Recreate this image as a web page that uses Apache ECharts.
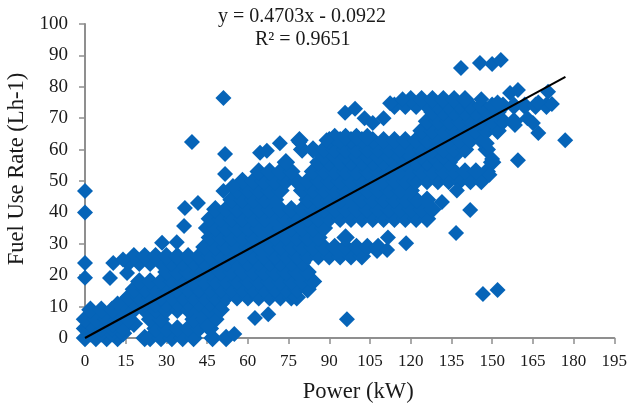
<!DOCTYPE html>
<html>
<head>
<meta charset="utf-8">
<style>html,body{margin:0;padding:0;background:#fff}#c{width:631px;height:406px}</style>
<script src="https://cdn.jsdelivr.net/npm/echarts@6/dist/echarts.min.js"></script>
</head>
<body>
<div id="c"></div>
<script>
const xTicks = [0,15,30,45,60,75,90,105,120,135,150,165,180,195];
const yTicks = [0,10,20,30,40,50,60,70,80,90,100];
const row0 = [0,4,8,12,22,24,28,32,36,40,47,52];
const row2 = [2,6,10,14];
const row3 = [0,2,6,10,14,26,30,34,38,42,46];
const row5 = [2,6,10,14,18];
const row6 = [0,4,8,12,16,24,28,40,44,48];
const row9 = [2,6,10,14,18,22,26,30,34,38,42,46,50];
const row13 = [16,20,24,28,32,36,40,44,48,52,56,60,64,68,72,76,78];
const row11 = [14,18,22,26,30,34,38,42,46,50];
const row15 = [18,22,26,30,34,38,42,46,50,54,58,62,66,70,74,78,82];
const row18 = [20,24,28,32,36,40,44,48,52,56,60,64,68,72,76,80,84];
const row21 = [30,34,38,42,46,50,54,58,62,66,70,74,78,82];
const row24 = [16,20,24,28,32,36,40,44,48,52,56,60,64,68,72,76,80];
const row26 = [18,22,26,30,34,38,42,46,50,54,58,62,66,70,74,78,82,86,90,94,98,102];
const row29 = [44,48,52,56,60,64,68,72,76,80,84,88,92,96,100,104,108];
const row32 = [46,50,54,58,62,66,70,74,78,82,86,96];
const row35 = [45,48,52,56,60,64,68,72,76,80,84,88];
const row38 = [46,50,54,58,62,66,70,74,78,82,86,90,94,98,102,106,110,114,118,122,126];
const row41 = [48,52,56,60,64,68,72,76,80,84,88,92,96,100,104,108,112,116,120,124,128];
const row44 = [54,58,62,66,70,82,86,90,94,98,102,106,110,114,118,122,126];
const row47 = [56,60,64,68,72,80,84,88,92,96,100,104,108,112,116,120];
const row50 = [58,62,66,70,74,78,82,86,90,94,98,102,106,110,114,118,122,126,130,134,138,142,146];
const row53 = [64,68,72,76,84,88,92,96,100,104,108,112,116,120,124,128,132,136,140,144,148];
const row56 = [74,86,90,94,98,102,106,110,114,118,122,126,130,134,150];
const row58 = [88,92,96,100,104,108,112,116,120,124,128,132,136];
const row60 = [80,84,88,92,96,100,104,108,112,116,120,124,128,132,136,140,148];
const row63 = [79,90,94,98,102,106,110,114,118,122,126,130,134,138,142,146];
const row64 = [92,96,100,104];
const row66 = [124,128,132,136,140,144,148,152];
const row69 = [126,130,134,138,142,146,150,154,158];
const row72 = [128,132,136,140,144,148,152];
const row74 = [114,118,122,126,130,134,138,142,146,150,154,158,162,166,170];
const row76 = [120,124,128,132,136,140];
const rowLevels = [0,1.5,3,4.5,6,9,11,13,15.5,18,21,24,26,29,32,35,38,41,44,47,50,53,56,58,60,63,64,66,69,72,74,76];
const rowLists = [row0,row2,row3,row5,row6,row9,row11,row13,row15,row18,row21,row24,row26,row29,row32,row35,row38,row41,row44,row47,row50,row53,row56,row58,row60,row63,row64,row66,row69,row72,row74,row76];
const looseX = [0,0,0,0,10.4,9.2,15.5,14,12,28.4,33.8,36.5,36.8,41.6,39.4,51,51.6,51.6,51,54.5,64.5,67,71.8,62.6,67.5,55,45,96.5,146.6,152,118.3,136.7,141.9,159.5,176.9,138.5,145.5,150,153.2,95.8,99.5,103,106,110,112.4,79,89,107.6,111.3,111.6,131.5,137,149,150,148,158.4,163,165,167,117,146,152,156.6,159.5,170.6,172,167];
const looseY = [46.8,40,23.9,19.2,23.9,19.1,20.7,25,11,30.3,30.5,35.7,41.4,43,62.4,76.4,58.6,52.2,46.8,48.4,59,59.6,62,6.4,7.6,1.3,3.8,6,14,15.3,30.2,33.4,40.8,56.6,63,86,87.6,87.3,88.5,71.7,73,70,68.5,70,74.8,62.4,63,27.7,28,32,43.3,47,52,57,62,67.8,70,68.5,65.3,76,76,75,78,79,78.4,74.5,75];
const trendX = [0,177];
const trendY = [0,83.15];

const massPoints = [];
rowLists.forEach((list,i)=>list.forEach(x=>massPoints.push([x,rowLevels[i]])));
const loosePoints = looseX.map((x,i)=>[x,looseY[i]]);

const serif = '"Liberation Serif","Times New Roman",serif';
const axisLine = {show:true,lineStyle:{color:'#8f8f8f',width:2}};
const axisTick = {show:true,length:6,lineStyle:{color:'#8f8f8f',width:1.5}};
const chart = echarts.init(document.getElementById('c'),null,{renderer:'canvas'});
chart.setOption({
  animation:false,
  backgroundColor:'#fff',
  grid:{left:85,right:16.7,top:24,bottom:68,outerBoundsMode:'none'},
  xAxis:{type:'value',min:0,max:195,interval:15,
    axisLine,axisTick,splitLine:{show:false},
    axisLabel:{color:'#1a1a1a',fontFamily:serif,fontSize:17,margin:15,showMaxLabel:true,showMinLabel:true,
      formatter:v=>xTicks.includes(v)?String(v):''},
    name:'Power (kW)',nameLocation:'middle',nameGap:43,
    nameTextStyle:{color:'#1a1a1a',fontFamily:serif,fontSize:22.6,padding:[0,0,0,17]}},
  yAxis:{type:'value',min:0,max:100,interval:10,
    axisLine:{...axisLine,onZero:false},axisTick,splitLine:{show:false},
    axisLabel:{color:'#1a1a1a',fontFamily:serif,fontSize:19,margin:17,
      formatter:v=>yTicks.includes(v)?String(v):''},
    name:'Fuel Use Rate (Lh-1)',nameLocation:'middle',nameGap:56,
    nameTextStyle:{color:'#1a1a1a',fontFamily:serif,fontSize:22.6,padding:[0,0,0,24]}},
  series:[
    {type:'scatter',data:massPoints,symbol:'diamond',symbolSize:18.5,clip:false,
     itemStyle:{color:'#0664B8',opacity:1},z:2},
    {type:'scatter',data:loosePoints,symbol:'diamond',symbolSize:16,clip:false,
     itemStyle:{color:'#0664B8',opacity:1},z:2},
    {type:'line',data:trendX.map((x,i)=>[x,trendY[i]]),symbol:'none',clip:false,
     lineStyle:{color:'#000',width:2},z:3}
  ],
  graphic:[
    {type:'text',left:218,top:7,z:10,style:{text:'y = 0.4703x - 0.0922',fontFamily:serif,fontSize:20,fill:'#1a1a1a'}},
    {type:'text',left:255,top:30,z:10,style:{text:'R² = 0.9651',fontFamily:serif,fontSize:20,fill:'#1a1a1a'}}
  ]
});
</script>
</body>
</html>
